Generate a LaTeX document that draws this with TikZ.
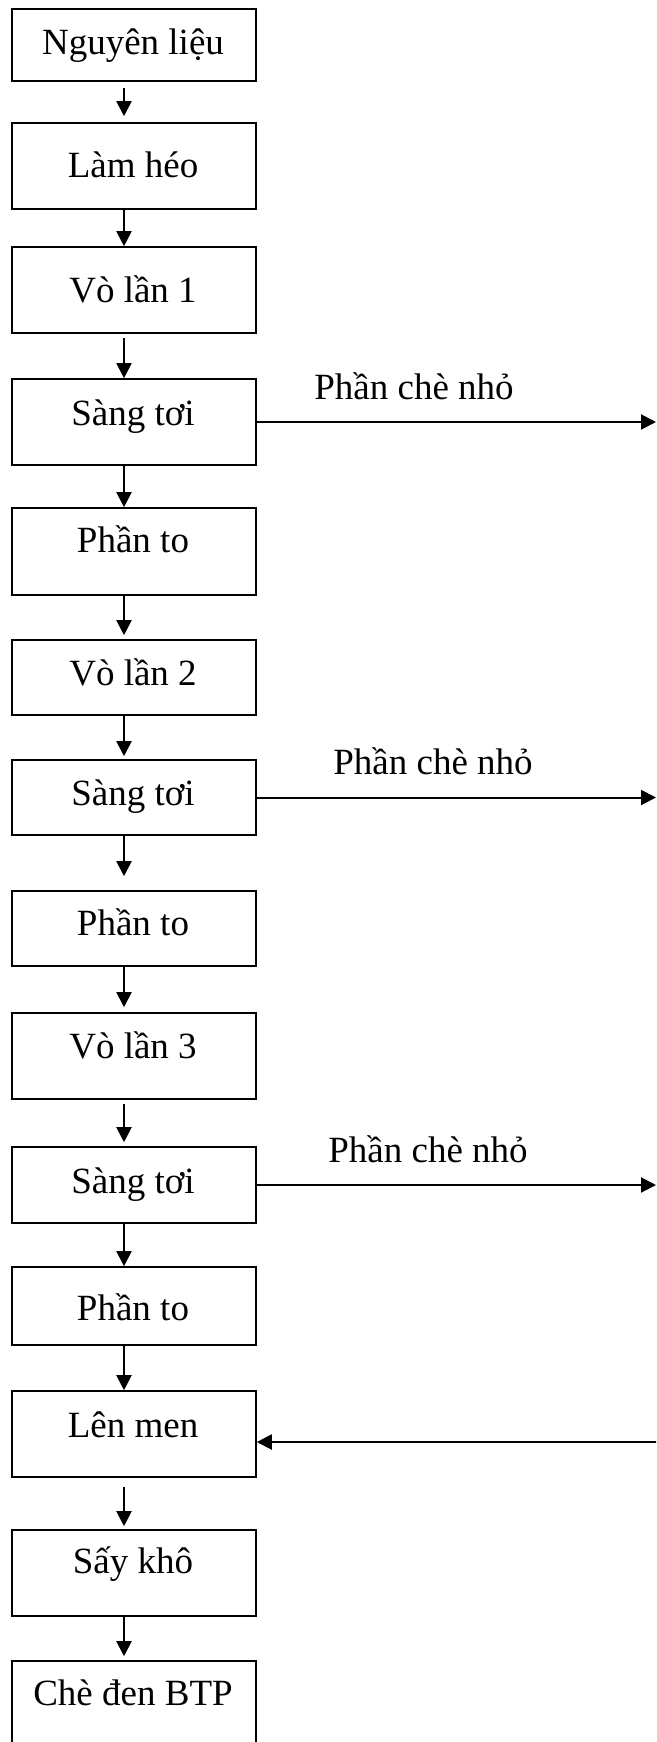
\documentclass[tikz,border=0pt]{standalone}
\usepackage{fontspec}
\setmainfont{Liberation Serif}
\usetikzlibrary{arrows.meta}
\begin{document}
\begin{tikzpicture}[x=1pt,y=-1pt,
  stepbox/.style={draw, line width=1.6pt, minimum width=244pt, inner sep=0pt},
  txt/.style={font=\fontsize{37}{44}\selectfont, anchor=base, inner sep=0pt},
  flow/.style={line width=2pt, -{Triangle[width=15pt,length=15pt]}},
]
\useasboundingbox (0,0) rectangle (656,1742);
\clip (0,0) rectangle (656,1742);

% process boxes
\node[stepbox, minimum height=72pt]  (b1)  at (134,45)     {};
\node[stepbox, minimum height=86pt]  (b2)  at (134,166)    {};
\node[stepbox, minimum height=86pt]  (b3)  at (134,290)    {};
\node[stepbox, minimum height=86pt]  (b4)  at (134,422)    {};
\node[stepbox, minimum height=87pt]  (b5)  at (134,551.5)  {};
\node[stepbox, minimum height=75pt]  (b6)  at (134,677.5)  {};
\node[stepbox, minimum height=75pt]  (b7)  at (134,797.5)  {};
\node[stepbox, minimum height=75pt]  (b8)  at (134,928.5)  {};
\node[stepbox, minimum height=86pt]  (b9)  at (134,1056)   {};
\node[stepbox, minimum height=76pt]  (b10) at (134,1185)   {};
\node[stepbox, minimum height=78pt]  (b11) at (134,1306)   {};
\node[stepbox, minimum height=86pt]  (b12) at (134,1434)   {};
\node[stepbox, minimum height=86pt]  (b13) at (134,1573)   {};
\node[stepbox, minimum height=119pt] (b14) at (134,1720.5) {};

% box texts
\node[txt] (t1)  at (133,55)   {Nguyên liệu};
\node[txt] (t2)  at (133,177)  {Làm héo};
\node[txt] (t3)  at (133,302)  {Vò lần 1};
\node[txt] (t4)  at (133,425)  {Sàng tơi};
\node[txt] (t5)  at (133,552)  {Phần to};
\node[txt] (t6)  at (133,685)  {Vò lần 2};
\node[txt] (t7)  at (133,805)  {Sàng tơi};
\node[txt] (t8)  at (133,935)  {Phần to};
\node[txt] (t9)  at (133,1058) {Vò lần 3};
\node[txt] (t10) at (133,1193) {Sàng tơi};
\node[txt] (t11) at (133,1320) {Phần to};
\node[txt] (t12) at (133,1437) {Lên men};
\node[txt] (t13) at (133,1573) {Sấy khô};
\node[txt] (t14) at (133,1705) {Chè đen BTP};

% vertical flow
\coordinate (ax) at (124,0);
\draw[flow, shorten <=6pt, shorten >=6pt] (b1.south -| ax) -- (b2.north -| ax);
\draw[flow] (b2.south -| ax) -- (b3.north -| ax);
\draw[flow, shorten <=4pt] (b3.south -| ax) -- (b4.north -| ax);
\draw[flow] (b4.south -| ax) -- (b5.north -| ax);
\draw[flow, shorten >=4pt] (b5.south -| ax) -- (b6.north -| ax);
\draw[flow, shorten >=3pt] (b6.south -| ax) -- (b7.north -| ax);
\draw[flow, shorten >=14pt] (b7.south -| ax) -- (b8.north -| ax);
\draw[flow, shorten >=5pt] (b8.south -| ax) -- (b9.north -| ax);
\draw[flow, shorten <=4pt, shorten >=4pt] (b9.south -| ax) -- (b10.north -| ax);
\draw[flow] (b10.south -| ax) -- (b11.north -| ax);
\draw[flow] (b11.south -| ax) -- (b12.north -| ax);
\draw[flow, shorten <=9pt, shorten >=3pt] (b12.south -| ax) -- (b13.north -| ax);
\draw[flow, shorten >=4pt] (b13.south -| ax) -- (b14.north -| ax);

% small tea fractions leaving the sieves
\coordinate (rx) at (656,0);
\draw[flow] (b4.east)  -- (b4.east -| rx);
\draw[flow] (b7.east)  -- (b7.east -| rx);
\draw[flow] (b10.east) -- (b10.east -| rx);
\node[txt] (s1) at (414,399)    {Phần chè nhỏ};
\node[txt] (s2) at (433,774.5)  {Phần chè nhỏ};
\node[txt] (s3) at (428,1162)   {Phần chè nhỏ};

% return line into fermentation
\coordinate (back) at (658,1442);
\draw[flow] (back) -- (back -| b12.east);
\end{tikzpicture}
\end{document}
